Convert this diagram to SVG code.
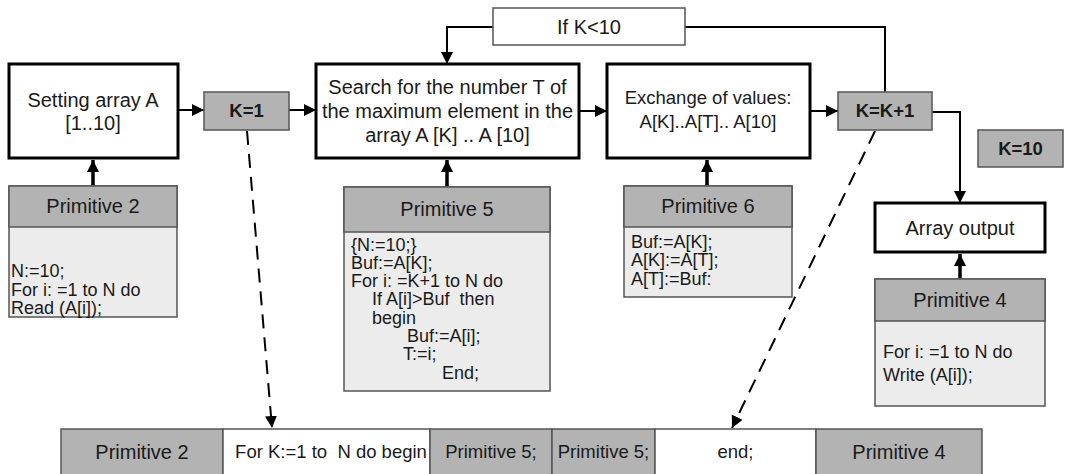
<svg xmlns="http://www.w3.org/2000/svg" width="1066" height="474" viewBox="0 0 1066 474">
<defs>
<style>
text{font-family:"Liberation Sans",Arial,sans-serif;fill:#1a1a1a}
.c{text-anchor:middle}
.big{font-size:20px}
.mid{font-size:18.5px}
.code{font-size:18px}
.bold{font-size:18.5px;font-weight:bold}
.thick{fill:#fff;stroke:#000;stroke-width:3}
.gray{fill:#b3b3b3;stroke:#555;stroke-width:1.5}
.body{fill:#ececec;stroke:#555;stroke-width:1.5}
.white{fill:#fff;stroke:#555;stroke-width:1.5}
.ln{fill:none;stroke:#000;stroke-width:2}
.lnb{fill:none;stroke:#000;stroke-width:3.5}
.dash{fill:none;stroke:#000;stroke-width:2;stroke-dasharray:14 9}
</style>
<marker id="ah" markerUnits="userSpaceOnUse" markerWidth="12" markerHeight="12" viewBox="0 0 12 12" refX="12" refY="6" orient="auto">
<path d="M0,0 L12,6 L0,12 z" fill="#000"/>
</marker>
</defs>
<rect width="1066" height="474" fill="#fff"/>

<g id="connectors">
<line class="ln" x1="179" y1="110" x2="204" y2="110" marker-end="url(#ah)"/>
<line class="ln" x1="289" y1="110" x2="316" y2="110" marker-end="url(#ah)"/>
<line class="ln" x1="580" y1="111" x2="607" y2="111" marker-end="url(#ah)"/>
<line class="ln" x1="811" y1="111" x2="838" y2="111" marker-end="url(#ah)"/>
<polyline class="ln" points="493,27 447,27 447,64" marker-end="url(#ah)"/>
<polyline class="ln" points="685,27 885,27 885,92"/>
<polyline class="ln" points="932,112 960,112 960,203" marker-end="url(#ah)"/>
<line class="lnb" x1="93" y1="186" x2="93" y2="160" marker-end="url(#ah)"/>
<line class="lnb" x1="447" y1="187" x2="447" y2="160" marker-end="url(#ah)"/>
<line class="lnb" x1="707" y1="186" x2="707" y2="160" marker-end="url(#ah)"/>
<line class="lnb" x1="960" y1="279" x2="960" y2="254" marker-end="url(#ah)"/>
<line class="dash" x1="247" y1="131" x2="272" y2="428" marker-end="url(#ah)"/>
<line class="dash" x1="875" y1="131" x2="732" y2="428" marker-end="url(#ah)"/>
</g>

<g id="setting">
<rect class="thick" x="9" y="64" width="169" height="94"/>
<text class="big c" x="93" y="107">Setting array A</text>
<text class="big c" x="93" y="130">[1..10]</text>
</g>

<g id="k1">
<rect class="gray" x="204" y="92" width="85" height="38"/>
<text class="bold c" x="246.5" y="117">K=1</text>
</g>

<g id="search">
<rect class="thick" x="316" y="64" width="263" height="94"/>
<text class="big c" x="447.5" y="94">Search for the number T of</text>
<text class="big c" x="447.5" y="118">the maximum element in the</text>
<text class="big c" x="447.5" y="142">array A [K] .. A [10]</text>
</g>

<g id="ifk">
<rect class="white" x="493" y="8" width="192" height="37"/>
<text class="big c" x="589" y="34">If K&lt;10</text>
</g>

<g id="exchange">
<rect class="thick" x="607" y="64" width="203" height="94"/>
<text class="mid c" x="708" y="104">Exchange of values:</text>
<text class="mid c" x="708" y="128">A[K]..A[T].. A[10]</text>
</g>

<g id="kk1">
<rect class="gray" x="838" y="92" width="94" height="38"/>
<text class="bold c" x="885" y="117">K=K+1</text>
</g>

<g id="k10">
<rect class="gray" x="978" y="130" width="85" height="37"/>
<text class="bold c" x="1020.5" y="155">K=10</text>
</g>

<g id="output">
<rect class="thick" x="875" y="203" width="170" height="49"/>
<text class="big c" x="960" y="235">Array output</text>
</g>

<g id="prim2">
<rect class="body" x="9" y="186" width="168" height="131"/>
<rect class="gray" x="9" y="186" width="168" height="41"/>
<text class="big c" x="93" y="213">Primitive 2</text>
<text class="code" x="11" y="277">N:=10;</text>
<text class="code" x="11" y="296">For i: =1 to N do</text>
<text class="code" x="11" y="314">Read (A[i]);</text>
</g>

<g id="prim5">
<rect class="body" x="344" y="187" width="206" height="204"/>
<rect class="gray" x="344" y="187" width="206" height="45"/>
<text class="big c" x="447" y="216">Primitive 5</text>
<text class="code" x="351" y="251">{N:=10;}</text>
<text class="code" x="351" y="269">Buf:=A[K];</text>
<text class="code" x="351" y="287">For i: =K+1 to N do</text>
<text class="code" x="372" y="305" style="white-space:pre">If A[i]&gt;Buf  then</text>
<text class="code" x="372" y="324">begin</text>
<text class="code" x="407" y="342">Buf:=A[i];</text>
<text class="code" x="403" y="360">T:=i;</text>
<text class="code" x="442" y="379">End;</text>
</g>

<g id="prim6">
<rect class="body" x="624" y="186" width="168" height="111"/>
<rect class="gray" x="624" y="186" width="168" height="41"/>
<text class="big c" x="708" y="213">Primitive 6</text>
<text class="code" x="631" y="248">Buf:=A[K];</text>
<text class="code" x="631" y="266">A[K]:=A[T];</text>
<text class="code" x="631" y="285">A[T]:=Buf:</text>
</g>

<g id="prim4">
<rect class="body" x="875" y="279" width="170" height="127"/>
<rect class="gray" x="875" y="279" width="170" height="42"/>
<text class="big c" x="960" y="307">Primitive 4</text>
<text class="code" x="883" y="358">For i: =1 to N do</text>
<text class="code" x="883" y="381">Write (A[i]);</text>
</g>

<g id="bottomrow">
<rect class="gray" x="61" y="429" width="162" height="52"/>
<rect class="white" x="223" y="429" width="207" height="52"/>
<rect class="gray" x="430" y="429" width="122" height="52"/>
<rect class="gray" x="552" y="429" width="103" height="52"/>
<rect class="white" x="655" y="429" width="161" height="52"/>
<rect class="gray" x="816" y="429" width="166" height="52"/>
<text class="big c" x="142" y="459">Primitive 2</text>
<text class="mid c" x="331" y="458" style="white-space:pre">For K:=1 to  N do begin</text>
<text class="mid c" x="491" y="458">Primitive 5;</text>
<text class="mid c" x="603.5" y="458">Primitive 5;</text>
<text class="mid c" x="735.5" y="458">end;</text>
<text class="big c" x="899" y="459">Primitive 4</text>
</g>
</svg>
